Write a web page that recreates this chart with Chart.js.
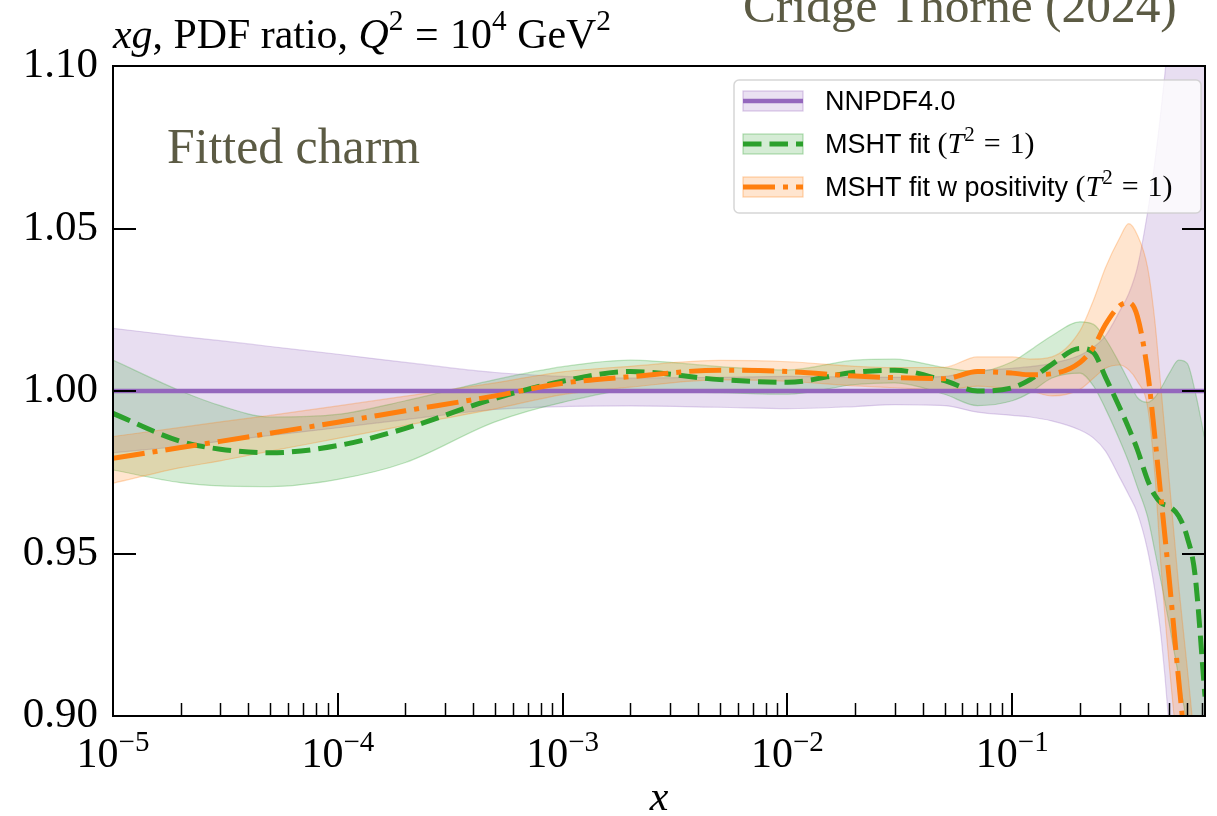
<!DOCTYPE html>
<html lang="en">
<head>
  <meta charset="UTF-8">
  <title>xg PDF ratio - fitted charm</title>
  <script src="https://cdn.jsdelivr.net/npm/chart.js"></script>
  <style>
    html, body { margin: 0; padding: 0; background: #fff; }
    #wrap { width: 1217px; height: 816px; }
  </style>
</head>
<body>
<div id="wrap"><canvas id="ratioChart" width="1217" height="816"></canvas></div>

<script>
  // x grid shared by all curves
  const xValues = [1e-5, 2e-5, 3e-5, 5e-5, 1e-4, 2e-4, 5e-4, 1e-3, 2e-3, 5e-3, 1e-2, 2e-2, 3e-2, 5e-2, 0.07,
                   0.1, 0.12, 0.15, 0.2, 0.23, 0.26, 0.3, 0.33, 0.36, 0.4, 0.43, 0.46, 0.5, 0.55, 0.6, 0.65, 0.72];

  // NNPDF4.0 (reference, ratio = 1) and its band
  const nnpdfCentral = [1, 1, 1, 1, 1, 1, 1, 1, 1, 1, 1, 1, 1, 1, 1,
                        1, 1, 1, 1, 1, 1, 1, 1, 1, 1, 1, 1, 1, 1, 1, 1, 1];
  const nnpdfLow  = [0.981, 0.983, 0.9845, 0.9863, 0.9887, 0.9912, 0.9943, 0.9952, 0.9954, 0.995, 0.9946, 0.9952, 0.9958, 0.9955, 0.9935,
                     0.9925, 0.992, 0.9908, 0.988, 0.9855, 0.9815, 0.9735, 0.968, 0.9625, 0.951, 0.939, 0.924, 0.895, 0.845, 0.78, 0.72, 0.65];
  const nnpdfHigh = [1.0193, 1.0168, 1.0155, 1.0137, 1.0113, 1.0088, 1.0057, 1.0045, 1.004, 1.0042, 1.0045, 1.0043, 1.0042, 1.0045, 1.0062,
                     1.007, 1.0075, 1.0085, 1.011, 1.0135, 1.017, 1.0245, 1.03, 1.038, 1.055, 1.07, 1.087, 1.113, 1.16, 1.22, 1.28, 1.36];

  // MSHT fit (T^2 = 1)
  const mshtCentral = [0.9931, 0.9845, 0.9821, 0.981, 0.9832, 0.9885, 0.9977, 1.003, 1.006, 1.0035, 1.0027, 1.0058, 1.0064, 1.0032, 1.0,
                       1.001, 1.0035, 1.0082, 1.0131, 1.0118, 1.0042, 0.995, 0.9885, 0.982, 0.9726, 0.968, 0.9655, 0.9645, 0.9615, 0.955, 0.9435, 0.906];
  const mshtLow  = [0.9757, 0.9718, 0.9708, 0.9706, 0.9728, 0.978, 0.9905, 0.9965, 1.0, 0.9995, 0.999, 1.002, 1.0025, 0.999, 0.9955,
                    0.997, 0.9995, 1.004, 1.0055, 1.0015, 0.9945, 0.985, 0.978, 0.9705, 0.9613, 0.951, 0.941, 0.928, 0.912, 0.897, 0.88, 0.85];
  const mshtHigh = [1.0095, 1.0, 0.9955, 0.992, 0.9928, 0.997, 1.0035, 1.0075, 1.0095, 1.0075, 1.0065, 1.0095, 1.0098, 1.0072, 1.006,
                    1.009, 1.0125, 1.017, 1.0213, 1.0205, 1.016, 1.0085, 1.003, 0.998, 0.9965, 0.998, 1.001, 1.0055, 1.0095, 1.0085, 1.0, 0.985];

  // MSHT fit with positivity (T^2 = 1)
  const posCentral = [0.9793, 0.9826, 0.9845, 0.987, 0.9904, 0.9939, 0.9985, 1.0024, 1.0044, 1.0064, 1.006, 1.0046, 1.0041, 1.0038, 1.006,
                      1.0055, 1.005, 1.0053, 1.0088, 1.0135, 1.0205, 1.0262, 1.0272, 1.023, 1.006, 0.9864, 0.9664, 0.9415, 0.911, 0.885, 0.86, 0.82];
  const posLow  = [0.9716, 0.9764, 0.9785, 0.9815, 0.9854, 0.9894, 0.9945, 0.9989, 1.0012, 1.0034, 1.003, 1.0016, 1.001, 1.0003, 1.0015,
                   1.0005, 1.0, 0.9985, 1.0005, 1.004, 1.007, 1.008, 1.0065, 1.003, 0.995, 0.975, 0.945, 0.915, 0.885, 0.855, 0.83, 0.79];
  const posHigh = [0.986, 0.9888, 0.9905, 0.9925, 0.9954, 0.9984, 1.0025, 1.0059, 1.0076, 1.0094, 1.009, 1.0076, 1.0072, 1.0073, 1.0105,
                   1.0105, 1.0098, 1.0105, 1.0185, 1.028, 1.038, 1.047, 1.0515, 1.048, 1.038, 1.022, 1.0, 0.972, 0.94, 0.915, 0.89, 0.85];

  // axes
  const xMin = 1e-5, xMax = 0.72;
  const yMin = 0.90, yMax = 1.10;
  const yTicks = [0.90, 0.95, 1.00, 1.05, 1.10];
  const xMajorTicks = [1e-5, 1e-4, 1e-3, 1e-2, 1e-1];
  const xMajorExponents = ['\u22125', '\u22124', '\u22123', '\u22122', '\u22121'];
  const seriesLabels = ['NNPDF4.0', 'MSHT fit', 'MSHT fit w positivity'];

  const xMinorTicks = [];
  xMajorTicks.forEach(d => {
    for (let m = 2; m <= 9; m++) { if (d * m <= xMax) xMinorTicks.push(d * m); }
  });

  // colours (matplotlib tab palette)
  const PURPLE = '148,103,189', GREEN = '44,160,44', ORANGE = '255,127,14';
  const GREEN_DASH = [18.5, 8];
  const ORANGE_DASH = [32, 8, 5, 8];

  const serif = 'Liberation Serif';
  const sans = 'Liberation Sans';
  const rm = s => `${s}px "${serif}"`;
  const it = s => `italic ${s}px "${serif}"`;

  function pts(ys) {
    return xValues.map((x, i) => ({ x: x, y: ys[i] }));
  }

  function edge(label, ys, rgb, alpha, order, filled) {
    return {
      label: label,
      data: pts(ys),
      borderColor: `rgba(${rgb},0.28)`,
      borderWidth: 1.2,
      backgroundColor: `rgba(${rgb},${alpha})`,
      fill: filled ? '-1' : false,
      pointRadius: 0,
      cubicInterpolationMode: 'monotone',
      order: order
    };
  }

  function central(label, ys, rgb, width, dash, order) {
    return {
      label: label,
      data: pts(ys),
      borderColor: `rgb(${rgb})`,
      borderWidth: width,
      borderDash: dash,
      fill: false,
      pointRadius: 0,
      cubicInterpolationMode: 'monotone',
      order: order
    };
  }

  // draw a row of text pieces (for the little bits of maths)
  function drawRuns(ctx, runs, x, y, align) {
    let total = 0;
    runs.forEach(r => { ctx.font = r.f; r.w = ctx.measureText(r.t).width + (r.gap || 0); total += r.w; });
    let cx = align === 'center' ? x - total / 2 : x;
    runs.forEach(r => {
      ctx.font = r.f;
      ctx.fillText(r.t, cx + (r.gap || 0) / 2, y - (r.rise || 0));
      cx += r.w;
    });
    return total;
  }

  function line(ctx, x1, y1, x2, y2) {
    ctx.beginPath();
    ctx.moveTo(x1, y1);
    ctx.lineTo(x2, y2);
    ctx.stroke();
  }

  function legendHandle(ctx, x, y, rgb, width, dash) {
    ctx.save();
    ctx.fillStyle = `rgba(${rgb},0.2)`;
    ctx.strokeStyle = `rgba(${rgb},0.35)`;
    ctx.lineWidth = 1.2;
    ctx.fillRect(x, y - 10, 60, 20);
    ctx.strokeRect(x, y - 10, 60, 20);
    ctx.strokeStyle = `rgb(${rgb})`;
    ctx.lineWidth = width;
    ctx.setLineDash(dash);
    line(ctx, x, y, x + 60, y);
    ctx.restore();
  }

  const overlay = {
    id: 'overlay',
    afterDatasetsDraw(chart) {
      const ctx = chart.ctx, a = chart.chartArea;
      const xs = chart.scales.x, ys = chart.scales.y;
      ctx.save();
      ctx.strokeStyle = '#000';

      // frame
      ctx.lineWidth = 2;
      ctx.strokeRect(a.left, a.top, a.right - a.left, a.bottom - a.top);

      // inward ticks
      xMajorTicks.forEach(v => {
        const px = Math.round(xs.getPixelForValue(v));
        line(ctx, px, a.bottom, px, a.bottom - 23);
      });
      ctx.lineWidth = 1.5;
      xMinorTicks.forEach(v => {
        const px = Math.round(xs.getPixelForValue(v)) + 0.5;
        line(ctx, px, a.bottom, px, a.bottom - 13);
      });
      ctx.lineWidth = 2;
      yTicks.forEach(v => {
        const py = Math.round(ys.getPixelForValue(v));
        line(ctx, a.left, py, a.left + 23, py);
        line(ctx, a.right, py, a.right - 23, py);
      });

      // legend
      const lx = a.right - 471, ly = a.top + 14, lw = 467, lh = 133;
      ctx.fillStyle = 'rgba(255,255,255,0.8)';
      ctx.strokeStyle = 'rgba(204,204,204,0.8)';
      ctx.lineWidth = 1.5;
      ctx.beginPath();
      ctx.roundRect(lx, ly, lw, lh, 5);
      ctx.fill();
      ctx.stroke();

      const rows = [ly + 21, ly + 64, ly + 107];
      legendHandle(ctx, lx + 9, rows[0], PURPLE, 4.5, []);
      legendHandle(ctx, lx + 9, rows[1], GREEN, 5, GREEN_DASH);
      legendHandle(ctx, lx + 9, rows[2], ORANGE, 5, ORANGE_DASH);

      ctx.fillStyle = '#000';
      ctx.textBaseline = 'alphabetic';
      ctx.textAlign = 'left';
      const tx = lx + 91;
      const sansF = `27px "${sans}"`;
      const tSq = () => [
        { t: '(', f: rm(30) }, { t: 'T', f: it(30) }, { t: '2', f: rm(21), rise: 12 },
        { t: '=', f: rm(30), gap: 18 }, { t: '1)', f: rm(30) }
      ];
      drawRuns(ctx, [{ t: seriesLabels[0], f: sansF }], tx, rows[0] + 9, 'left');
      drawRuns(ctx, [{ t: seriesLabels[1] + ' ', f: sansF }].concat(tSq()), tx, rows[1] + 9, 'left');
      drawRuns(ctx, [{ t: seriesLabels[2] + ' ', f: sansF }].concat(tSq()), tx, rows[2] + 9, 'left');
      ctx.restore();
    },
    afterDraw(chart) {
      const ctx = chart.ctx, a = chart.chartArea;
      const xs = chart.scales.x;
      ctx.save();
      ctx.fillStyle = '#000';
      ctx.textBaseline = 'alphabetic';
      ctx.textAlign = 'left';

      // x tick labels 10^n
      xMajorTicks.forEach((v, i) => {
        const px = xs.getPixelForValue(v);
        drawRuns(ctx, [{ t: '10', f: rm(42) }, { t: xMajorExponents[i], f: rm(29), rise: 16 }], px, a.bottom + 51, 'center');
      });

      // axis title
      drawRuns(ctx, [{ t: 'x', f: it(42) }], (a.left + a.right) / 2, 810, 'center');

      // plot title, scaled to the width it takes in the original
      const title = s => [
        { t: 'xg', f: it(s) }, { t: ', PDF ratio, ', f: rm(s) }, { t: 'Q', f: it(s) },
        { t: '2', f: rm(s * 0.7), rise: s * 0.42 }, { t: '=', f: rm(s), gap: s * 0.55 }, { t: '10', f: rm(s) },
        { t: '4', f: rm(s * 0.7), rise: s * 0.42 }, { t: ' GeV', f: rm(s) },
        { t: '2', f: rm(s * 0.7), rise: s * 0.42 }
      ];
      ctx.globalAlpha = 0;
      const w32 = drawRuns(ctx, title(32), 0, -100, 'left');
      ctx.globalAlpha = 1;
      drawRuns(ctx, title(32 * 498 / w32), a.left, a.top - 18, 'left');

      // annotations in olive serif
      ctx.fillStyle = '#5c5b44';
      ctx.font = rm(50);
      let w = ctx.measureText('Fitted charm').width;
      ctx.font = rm(50 * 253 / w);
      ctx.fillText('Fitted charm', a.left + 54, 163);
      ctx.font = rm(50);
      w = ctx.measureText('Cridge Thorne (2024)').width;
      ctx.font = rm(50 * 434 / w);
      ctx.fillText('Cridge Thorne (2024)', 743, 22);
      ctx.restore();
    }
  };

  // higher order is painted first: all bands, then the NNPDF line, then the dashed fits
  const datasets = [
    edge('NNPDF4.0 low', nnpdfLow, PURPLE, 0.22, 9, false),
    edge('NNPDF4.0 high', nnpdfHigh, PURPLE, 0.22, 8, true),
    central(seriesLabels[0], nnpdfCentral, PURPLE, 4.5, [], 3),
    edge('MSHT fit low', mshtLow, GREEN, 0.2, 7, false),
    edge('MSHT fit high', mshtHigh, GREEN, 0.2, 6, true),
    central(seriesLabels[1], mshtCentral, GREEN, 5, GREEN_DASH, 2),
    edge('MSHT pos low', posLow, ORANGE, 0.2, 5, false),
    edge('MSHT pos high', posHigh, ORANGE, 0.2, 4, true),
    central(seriesLabels[2], posCentral, ORANGE, 5, ORANGE_DASH, 1)
  ];

  new Chart(document.getElementById('ratioChart').getContext('2d'), {
    type: 'line',
    data: { datasets: datasets },
    options: {
      responsive: false,
      animation: false,
      devicePixelRatio: 1,
      layout: { padding: { top: 66, right: 12, left: 0, bottom: 0 } },
      elements: { line: { capBezierPoints: false } },
      plugins: {
        legend: { display: false },
        tooltip: { enabled: false },
        filler: { propagate: false }
      },
      scales: {
        x: {
          type: 'logarithmic',
          min: xMin,
          max: xMax,
          grid: { display: false, drawTicks: false },
          border: { display: false },
          ticks: { display: false },
          afterFit: s => { s.height = 100; }
        },
        y: {
          type: 'linear',
          min: yMin,
          max: yMax,
          grid: { display: false, drawTicks: false },
          border: { display: false },
          ticks: {
            color: '#000',
            padding: 15,
            font: { family: serif, size: 43 },
            callback: v => v.toFixed(2)
          },
          afterBuildTicks: s => { s.ticks = yTicks.map(v => ({ value: v })); },
          afterFit: s => { s.width = 113; }
        }
      }
    },
    plugins: [overlay]
  });
</script>
</body>
</html>
